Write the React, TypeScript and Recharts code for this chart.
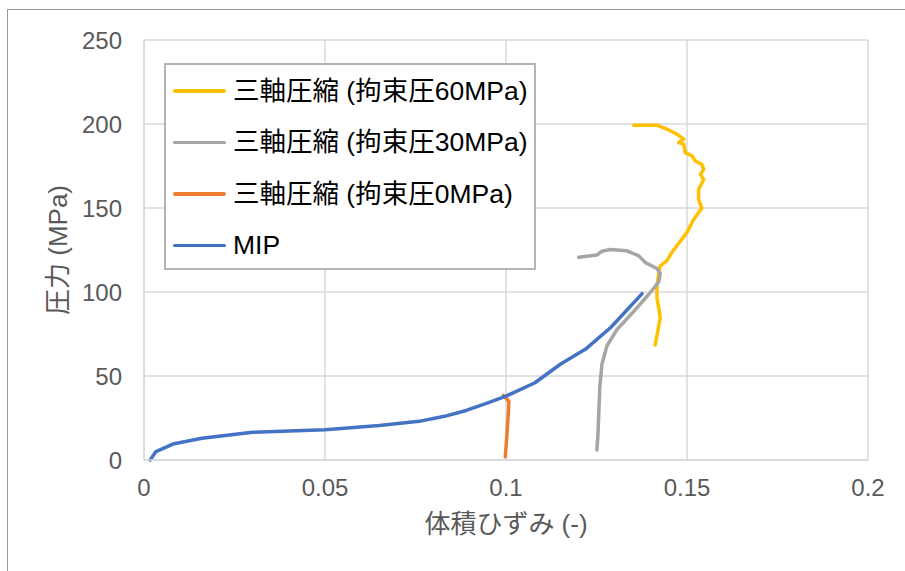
import React from 'react';
import { LineChart, Line, XAxis, YAxis, CartesianGrid, Legend } from 'recharts';

// 体積ひずみ (x) と 圧力 (y) を画像から読み取り
const triaxial60 = [
  { x: 0.1412, y: 68.5 }, { x: 0.142, y: 77.5 }, { x: 0.1426, y: 84.5 }, { x: 0.1422, y: 90.5 },
  { x: 0.1417, y: 96.5 }, { x: 0.1417, y: 103.5 }, { x: 0.1422, y: 111.5 }, { x: 0.1426, y: 115.5 },
  { x: 0.1444, y: 118.5 }, { x: 0.1458, y: 123.5 }, { x: 0.1472, y: 127.5 }, { x: 0.15, y: 135.5 },
  { x: 0.1518, y: 143 }, { x: 0.1541, y: 150 }, { x: 0.1532, y: 155 }, { x: 0.1532, y: 161 },
  { x: 0.1546, y: 167 }, { x: 0.1537, y: 170 }, { x: 0.1546, y: 173 }, { x: 0.1541, y: 176 },
  { x: 0.1523, y: 178 }, { x: 0.1514, y: 181 }, { x: 0.1495, y: 183 }, { x: 0.1491, y: 188 },
  { x: 0.1477, y: 189 }, { x: 0.1491, y: 191 }, { x: 0.1472, y: 194 }, { x: 0.1444, y: 197 },
  { x: 0.1417, y: 199.3 }, { x: 0.1353, y: 199.3 },
];

const triaxial30 = [
  { x: 0.1251, y: 6 }, { x: 0.1254, y: 15 }, { x: 0.1256, y: 26 }, { x: 0.1259, y: 43 },
  { x: 0.1265, y: 57 }, { x: 0.1279, y: 68 }, { x: 0.1306, y: 77.5 }, { x: 0.1353, y: 88.5 },
  { x: 0.1394, y: 98.5 }, { x: 0.1422, y: 106 }, { x: 0.1426, y: 111 }, { x: 0.1417, y: 114 },
  { x: 0.1385, y: 117.5 }, { x: 0.1367, y: 121.5 }, { x: 0.1334, y: 124.5 }, { x: 0.1288, y: 125.3 },
  { x: 0.1265, y: 124.3 }, { x: 0.1251, y: 122 }, { x: 0.1201, y: 120.7 },
];

const triaxial0 = [
  { x: 0.0993, y: 38.5 }, { x: 0.1008, y: 35 }, { x: 0.1007, y: 30 }, { x: 0.1004, y: 20 },
  { x: 0.1001, y: 10 }, { x: 0.0998, y: 2 },
];

const mip = [
  { x: 0.0017, y: 0 }, { x: 0.0033, y: 5 }, { x: 0.008, y: 9.5 }, { x: 0.016, y: 13 },
  { x: 0.03, y: 16.5 }, { x: 0.05, y: 18 }, { x: 0.065, y: 20.5 }, { x: 0.076, y: 23 },
  { x: 0.083, y: 26 }, { x: 0.089, y: 29.5 }, { x: 0.095, y: 34 }, { x: 0.1, y: 38 },
  { x: 0.108, y: 46 }, { x: 0.115, y: 57 }, { x: 0.122, y: 66 }, { x: 0.129, y: 79 },
  { x: 0.1376, y: 99 },
];

const xTicks = [0, 0.05, 0.1, 0.15, 0.2];
const yTicks = [0, 50, 100, 150, 200, 250];

const series = [
  { name: '三軸圧縮 (拘束圧60MPa)', data: triaxial60, color: '#FFC000' },
  { name: '三軸圧縮 (拘束圧30MPa)', data: triaxial30, color: '#A5A5A5' },
  { name: '三軸圧縮 (拘束圧0MPa)', data: triaxial0, color: '#ED7D31' },
  { name: 'MIP', data: mip, color: '#4472C4' },
];

const FONT = "'Liberation Sans', Arial, 'Noto Sans CJK JP', sans-serif";

function LegendBox() {
  return (
    <div
      style={{
        boxSizing: 'border-box',
        width: 372,
        height: 207,
        border: '2px solid #b4b4b4',
        background: '#fff',
        fontFamily: FONT,
      }}
    >
      {series.map((s) => (
        <div key={s.name} style={{ display: 'flex', alignItems: 'center', height: 51.6 }}>
          <div style={{ marginLeft: 7, width: 53, height: 3.5, borderRadius: 2, background: s.color }} />
          <span style={{ marginLeft: 7, fontSize: 26.5, lineHeight: 1, color: '#000', whiteSpace: 'nowrap' }}>
            {s.name}
          </span>
        </div>
      ))}
    </div>
  );
}

export default function App() {
  return (
    <div
      style={{
        position: 'absolute',
        left: 0,
        top: 0,
        width: 905,
        height: 571,
        overflow: 'hidden',
        background: '#fff',
        fontFamily: FONT,
      }}
    >
      {/* chart area frame */}
      <div
        style={{
          position: 'absolute',
          left: 7,
          top: 9,
          width: 1000,
          height: 1000,
          border: '1.5px solid #999',
        }}
      />
      <LineChart width={905} height={571} margin={{ top: 40, right: 37, bottom: 31, left: 0 }}>
        <CartesianGrid stroke="#d9d9d9" strokeWidth={1.5} />
        <XAxis
          type="number"
          dataKey="x"
          domain={[0, 0.2]}
          ticks={xTicks}
          tickFormatter={(v) => String(v)}
          height={80}
          tickLine={false}
          axisLine={{ stroke: '#d9d9d9', strokeWidth: 1.5 }}
          tickMargin={13}
          tick={{ fill: '#595959', fontSize: 24, fontFamily: FONT }}
          label={{
            value: '体積ひずみ (-)',
            position: 'insideBottom',
            offset: 7,
            style: { fill: '#595959', fontSize: 26, fontFamily: FONT },
          }}
        />
        <YAxis
          type="number"
          domain={[0, 250]}
          ticks={yTicks}
          width={144}
          tickLine={false}
          axisLine={{ stroke: '#d9d9d9', strokeWidth: 1.5 }}
          tickMargin={16}
          tick={{ fill: '#595959', fontSize: 24, fontFamily: FONT }}
          label={{
            value: '圧力 (MPa)',
            angle: -90,
            position: 'insideLeft',
            offset: 58,
            style: { fill: '#595959', fontSize: 26, fontFamily: FONT, textAnchor: 'middle' },
          }}
        />
        <Legend
          layout="vertical"
          align="center"
          verticalAlign="middle"
          content={() => <LegendBox />}
          wrapperStyle={{ left: 164, top: 63, width: 372, height: 207 }}
        />
        {series.map((s) => (
          <Line
            key={s.name}
            name={s.name}
            data={s.data}
            dataKey="y"
            type="linear"
            stroke={s.color}
            strokeWidth={3.5}
            strokeLinejoin="round"
            strokeLinecap="round"
            dot={false}
            activeDot={false}
            isAnimationActive={false}
          />
        ))}
      </LineChart>
    </div>
  );
}
